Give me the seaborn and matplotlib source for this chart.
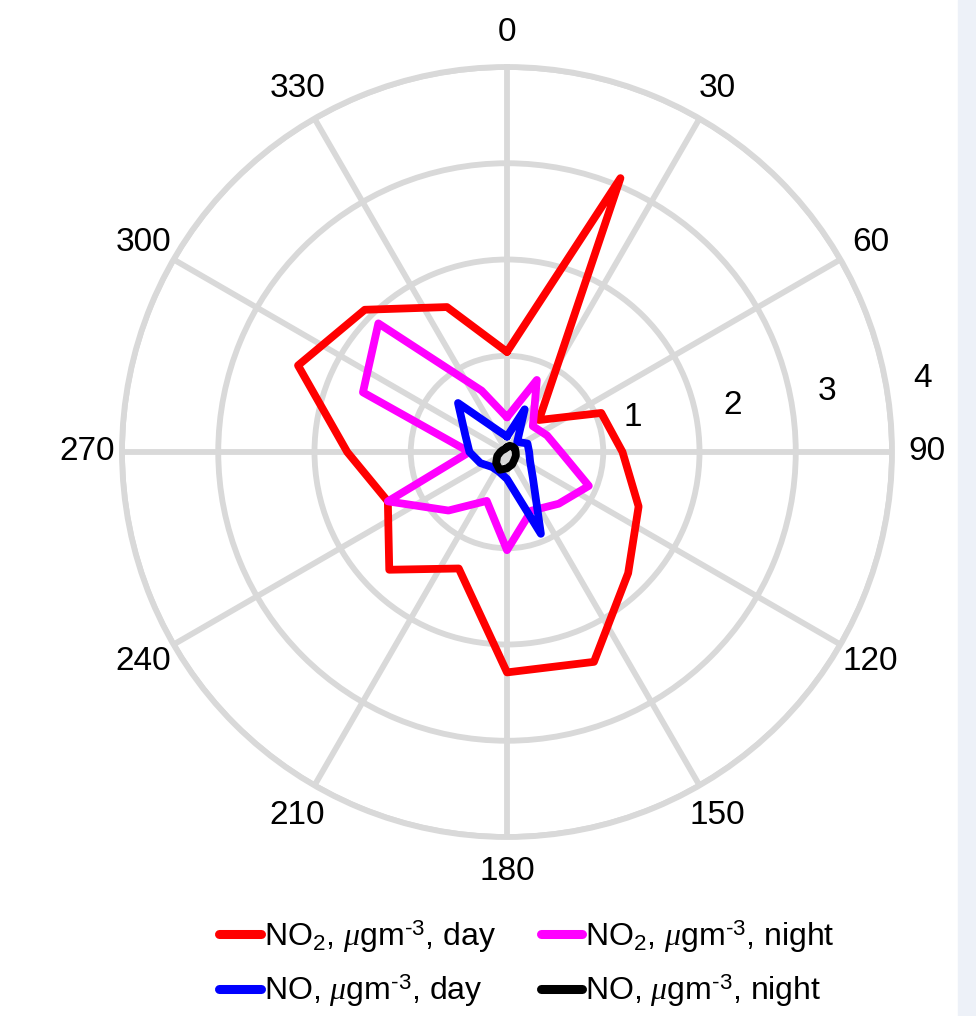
import numpy as np
import pandas as pd
import matplotlib
matplotlib.use("Agg")
import matplotlib.pyplot as plt
import seaborn as sns
from matplotlib.patches import Rectangle

# wind direction sectors (deg, clockwise from north)
directions = [0, 22.5, 45, 67.5, 90, 112.5, 135, 157.5,
              180, 202.5, 225, 247.5, 270, 292.5, 315, 337.5]

# concentrations (same 16 sectors)
no2_day = [1.04, 3.08, 0.47, 1.06, 1.20, 1.48, 1.78, 2.36,
           2.29, 1.31, 1.73, 1.34, 1.66, 2.35, 2.09, 1.63]
no2_night = [0.36, 0.81, 0.38, 0.45, 0.56, 0.92, 0.76, 0.66,
             1.02, 0.55, 0.86, 1.34, 0.39, 1.62, 1.89, 0.69]
no_day = [0.16, 0.48, 0.15, 0.23, 0.23, 0.26, 0.38, 0.92,
          0.28, 0.22, 0.22, 0.30, 0.39, 0.47, 0.72, 0.24]
no_night = [0.05, 0.07, 0.08, 0.09, 0.09, 0.10, 0.11, 0.14,
            0.17, 0.20, 0.16, 0.11, 0.07, 0.05, 0.04, 0.04]

series_labels = [r"NO$_2$, $\mu$gm$^{\text{-3}}$, day",
                 r"NO$_2$, $\mu$gm$^{\text{-3}}$, night",
                 r"NO, $\mu$gm$^{\text{-3}}$, day",
                 r"NO, $\mu$gm$^{\text{-3}}$, night"]
series_colors = ["#ff0000", "#ff00ff", "#0000ff", "#000000"]

angle_ticks = list(range(0, 360, 30))
radial_ticks = [1, 2, 3, 4]

# long-form table, each rose closed back on its first sector
rows = []
for lab, vals in zip(series_labels, [no2_day, no2_night, no_day, no_night]):
    for i, (d, v) in enumerate(list(zip(directions, vals)) + [(360, vals[0])]):
        rows.append({"theta": np.deg2rad(d), "r": v, "series": lab, "order": i})
df = pd.DataFrame(rows)

sns.set_style("white")
plt.rcParams["font.family"] = ["Liberation Sans", "DejaVu Sans"]
plt.rcParams["text.color"] = "black"
plt.rcParams["mathtext.fontset"] = "custom"
plt.rcParams["mathtext.rm"] = "Liberation Sans"
plt.rcParams["mathtext.it"] = "Liberation Serif:italic"

fig = plt.figure(figsize=(9.76, 10.16), dpi=100, facecolor="white")
# pale page margin on the right
fig.add_artist(Rectangle((958 / 976, 0), 18 / 976, 1, transform=fig.transFigure,
                         color="#edf1f8", zorder=0))

ax = fig.add_axes([122 / 976, 179 / 1016, 770 / 976, 770 / 1016], projection="polar")
ax.set_theta_zero_location("N")
ax.set_theta_direction(-1)
ax.set_ylim(0, 4)
ax.set_thetagrids(angle_ticks, labels=[""] * len(angle_ticks))
ax.set_rgrids(radial_ticks, labels=[""] * len(radial_ticks))
ax.grid(True, color="#d9d9d9", linewidth=4.2)
ax.spines["polar"].set_color("#d9d9d9")
ax.spines["polar"].set_linewidth(4.2)
ax.set_facecolor("white")

sns.lineplot(data=df, x="theta", y="r", hue="series", hue_order=series_labels,
             palette=dict(zip(series_labels, series_colors)), sort=False,
             estimator=None, linewidth=5.6, ax=ax, legend=True)
ax.set_xlabel("")
ax.set_ylabel("")

# direction labels outside the outer ring
for a in angle_ticks:
    ax.text(np.deg2rad(a), 4.36, str(a), ha="center", va="center", fontsize=24)

# ring labels
for val, ang, rr in zip(radial_ticks, [74.5, 78.4, 79.2, 80.0], [1.36, 2.39, 3.38, 4.38]):
    ax.text(np.deg2rad(ang), rr, str(val), ha="center", va="center", fontsize=24)

handles, labels = ax.get_legend_handles_labels()
ax.get_legend().remove()
hmap = dict(zip(labels, handles))
order = [series_labels[0], series_labels[2], series_labels[1], series_labels[3]]
leg = fig.legend([hmap[k] for k in order], order, ncol=2, loc="upper center",
                 bbox_to_anchor=(0.54, 0.125), frameon=False, fontsize=23,
                 handlelength=1.3, handletextpad=0.1, columnspacing=1.4,
                 labelspacing=0.55)
for l in leg.get_lines():
    l.set_linewidth(6.5)

fig.savefig("out.png", dpi=100, facecolor=fig.get_facecolor())
